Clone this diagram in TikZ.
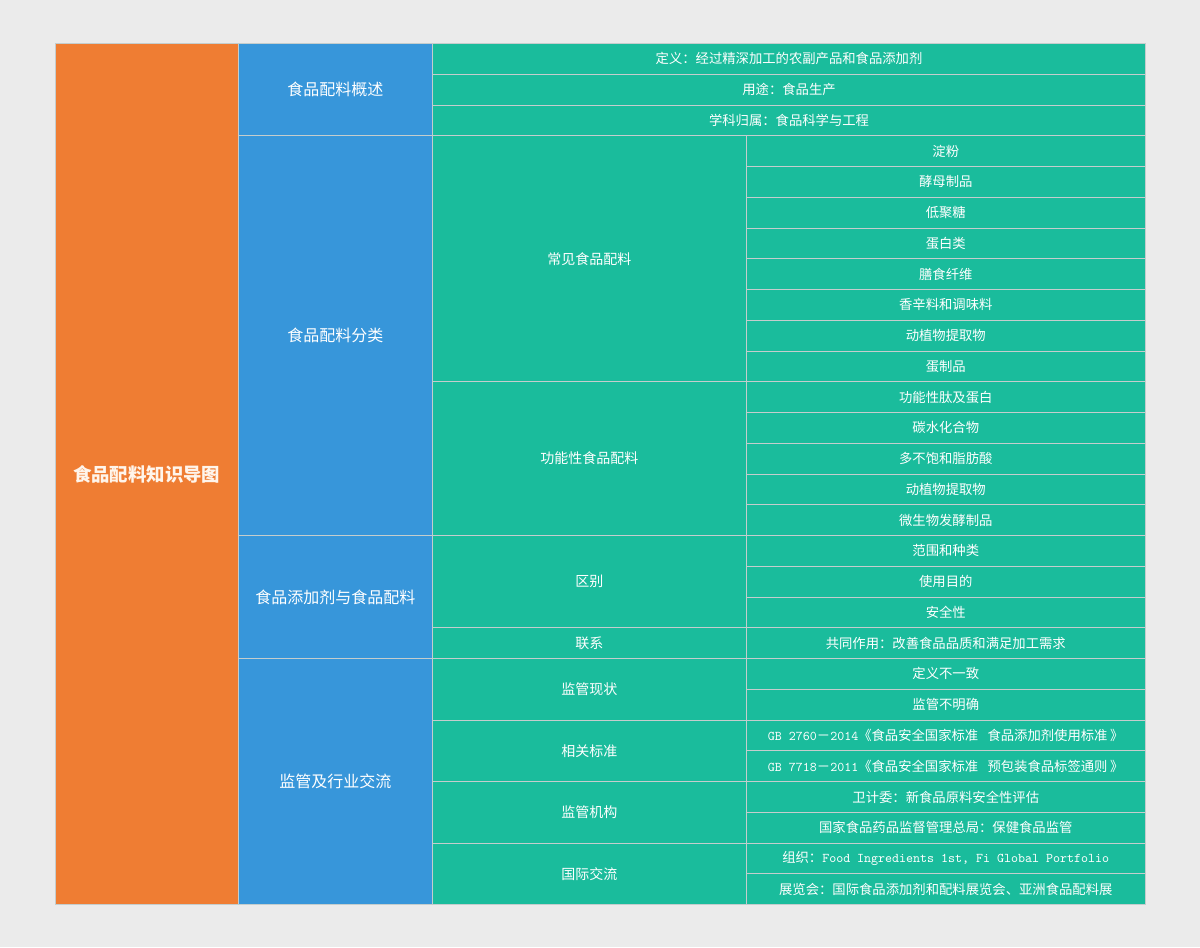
\documentclass[tikz,border=0pt]{standalone}
\usepackage{fontspec}
\setmainfont{Noto Sans CJK SC}
\definecolor{rootorange}{HTML}{EF7D33}
\definecolor{topicblue}{HTML}{3796DA}
\definecolor{itemgreen}{HTML}{1ABC9C}
\definecolor{gridline}{HTML}{C4CDCD}
\definecolor{pagegrey}{HTML}{EBEBEB}
\tikzset{
  cellbox/.style 2 args={draw=gridline, line width=0.75pt, inner sep=0pt, anchor=north west,
    text=white, minimum width=#1*0.75pt, minimum height=#2*0.75pt},
  rootcell/.style={fill=rootorange, text=white!92!orange, font=\fontsize{13.8}{16}\selectfont\bfseries},
  topiccell/.style={fill=topicblue, font=\fontsize{12}{14}\selectfont},
  itemcell/.style={fill=itemgreen, font=\fontsize{10.5}{13}\selectfont},
  leafcell/.style={fill=itemgreen, font=\fontsize{10}{12}\selectfont}
}
\begin{document}
\begin{tikzpicture}[x=0.75pt,y=-0.75pt]
\fill[pagegrey] (0,0) rectangle (1200,947);
% root and topics
\node[cellbox={182.5}{861},rootcell] (root) at (55,43) {食品配料知识导图};
\node[cellbox={194.5}{92.25},topiccell] (overview) at (237.5,43) {食品配料概述};
\node[cellbox={194.5}{399.75},topiccell] (classes) at (237.5,135.25) {食品配料分类};
\node[cellbox={194.5}{123},topiccell] (additive) at (237.5,535) {食品添加剂与食品配料};
\node[cellbox={194.5}{246},topiccell] (regulation) at (237.5,658) {监管及行业交流};
% overview rows
\node[cellbox={713}{30.75},leafcell] (define) at (432,43) {定义：经过精深加工的农副产品和食品添加剂};
\node[cellbox={713}{30.75},leafcell] (usage) at (432,73.75) {用途：食品生产};
\node[cellbox={713}{30.75},leafcell] (field) at (432,104.5) {学科归属：食品科学与工程};
% second level
\node[cellbox={313.5}{246},itemcell] (common) at (432,135.25) {常见食品配料};
\node[cellbox={313.5}{153.75},itemcell] (functional) at (432,381.25) {功能性食品配料};
\node[cellbox={313.5}{92.25},itemcell] (diff) at (432,535) {区别};
\node[cellbox={313.5}{30.75},itemcell] (link) at (432,627.25) {联系};
\node[cellbox={313.5}{61.5},itemcell] (status) at (432,658) {监管现状};
\node[cellbox={313.5}{61.5},itemcell] (standard) at (432,719.5) {相关标准};
\node[cellbox={313.5}{61.5},itemcell] (agency) at (432,781) {监管机构};
\node[cellbox={313.5}{61.5},itemcell] (exchange) at (432,842.5) {国际交流};
% leaves
\foreach \t [count=\i from 4] in {淀粉,酵母制品,低聚糖,蛋白类,膳食纤维,香辛料和调味料,动植物提取物,蛋制品,
  功能性肽及蛋白,碳水化合物,多不饱和脂肪酸,动植物提取物,微生物发酵制品,
  范围和种类,使用目的,安全性,共同作用：改善食品品质和满足加工需求,
  定义不一致,监管不明确,
  {\texttt{GB 2760}－\texttt{2014}《食品安全国家标准\hspace{0.7em}食品添加剂使用标准\hspace{0.2em}》},
  {\texttt{GB 7718}－\texttt{2011}《食品安全国家标准\hspace{0.7em}预包装食品标签通则\hspace{0.2em}》},
  卫计委：新食品原料安全性评估,国家食品药品监督管理总局：保健食品监管,
  {组织：\texttt{Food Ingredients 1st, Fi Global Portfolio}},
  展览会：国际食品添加剂和配料展览会、亚洲食品配料展}
  \node[cellbox={399.5}{30.75},leafcell] (leaf\i) at ({745.5},{43+(\i-1)*30.75}) {\t};
\end{tikzpicture}
\end{document}
